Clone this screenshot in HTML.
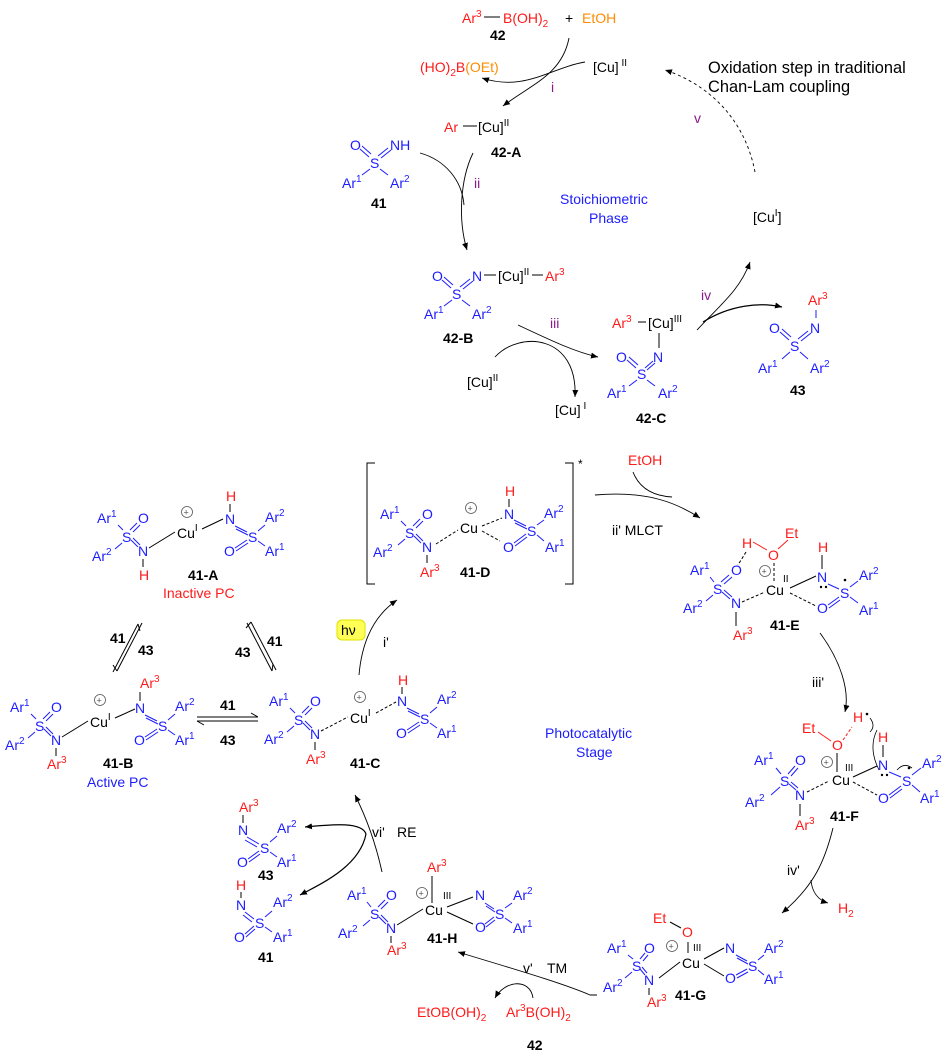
<!DOCTYPE html>
<html><head><meta charset="utf-8">
<style>
html,body{margin:0;padding:0;background:#fff;}
svg{display:block;font-family:"Liberation Sans",Arial,sans-serif;font-size:14px;}
.b{fill:#1c1cff}.r{fill:#ff1a1a}.k{fill:#000}.p{fill:#8b1a8b}.o{fill:#ff8c00}.bd{font-weight:bold;fill:#000}
line{stroke-width:1}
.bl{stroke:#1c1cff}.kl{stroke:#000}.rl{stroke:#ff1a1a}
.dl{stroke:#000;stroke-dasharray:3,2}
.rdl{stroke:#ff1a1a;stroke-dasharray:3,2}
path.a{fill:none;stroke:#000;stroke-width:0.9}
</style></head><body>
<svg width="950" height="1061" viewBox="0 0 950 1061" xmlns="http://www.w3.org/2000/svg">
<defs><marker id="ar" markerWidth="8" markerHeight="8" refX="7" refY="4" orient="auto" markerUnits="userSpaceOnUse"><path d="M0,1 L7,4 L0,7 z" fill="#000"/></marker></defs>
<rect width="950" height="1061" fill="#fff"/>

<!-- ===== TOP ===== -->
<text x="462" y="23" class="r">Ar<tspan dy="-6" font-size="10">3</tspan></text>
<line x1="484" y1="17" x2="500" y2="17" class="kl"/>
<text x="503" y="23" class="r">B(OH)<tspan dy="4" font-size="10">2</tspan></text>
<text x="565" y="23" class="k">+</text><text x="582" y="23" class="o">EtOH</text>
<text x="490" y="40" class="bd">42</text>
<text x="593" y="72" class="k">[Cu]<tspan dy="-6" font-size="10"> II</tspan></text>
<text x="420" y="72" class="r">(HO)<tspan dy="4" font-size="10">2</tspan><tspan dy="-4">B</tspan><tspan class="o">(OEt)</tspan></text>
<text x="551" y="92" class="p">i</text>
<path class="a" d="M585,62 C550,68 525,92 482,78" marker-end="url(#ar)"/>
<path class="a" d="M569,38 C562,75 530,85 503,106" marker-end="url(#ar)"/>
<text x="444" y="132" class="r">Ar</text><line x1="463" y1="126" x2="477" y2="126" class="kl"/>
<text x="478" y="132" class="k">[Cu]<tspan dy="-6" font-size="10">II</tspan></text>
<text x="491" y="157" class="bd">42-A</text>
<text x="708" y="73" class="k" font-size="16.4">Oxidation step in traditional</text>
<text x="708" y="92" class="k" font-size="16.4">Chan-Lam coupling</text>
<text x="694" y="123" class="p">v</text>
<path d="M755,172 C745,120 710,85 665,70" fill="none" stroke="#000" stroke-width="0.9" stroke-dasharray="3,3" marker-end="url(#ar)"/>
<text x="560" y="204" class="b">Stoichiometric</text>
<text x="589" y="223" class="b">Phase</text>
<text x="753" y="222" class="k">[Cu<tspan dy="-6" font-size="10">I</tspan><tspan dy="6">]</tspan></text>

<!-- 41 top (T) -->
<g transform="translate(375,162)">
<text x="-25" y="-12" class="b">O</text><text x="15" y="-12" class="b">NH</text><text x="-5" y="6" class="b">S</text>
<text x="-33" y="26" class="b">Ar<tspan dy="-6" font-size="10">1</tspan></text><text x="15" y="26" class="b">Ar<tspan dy="-6" font-size="10">2</tspan></text>
<line x1="-15" y1="-13" x2="-6" y2="-5" class="bl"/><line x1="-13" y1="-16" x2="-4" y2="-8" class="bl"/>
<line x1="3" y1="-6" x2="13" y2="-14" class="bl"/><line x1="6" y1="-4" x2="16" y2="-12" class="bl"/>
<line x1="-5" y1="7" x2="-13" y2="13" class="bl"/><line x1="5" y1="7" x2="13" y2="13" class="bl"/>
</g>
<text x="371" y="208" class="bd">41</text>
<text x="474" y="188" class="p">ii</text>
<path class="a" d="M473,153 C460,180 458,220 467,250" marker-end="url(#ar)"/>
<path class="a" d="M420,153 C445,160 462,180 464,205"/>

<!-- 42-B -->
<g transform="translate(457,293)">
<text x="-25" y="-12" class="b">O</text><text x="15" y="-12" class="b">N</text><text x="-5" y="6" class="b">S</text>
<text x="-33" y="26" class="b">Ar<tspan dy="-6" font-size="10">1</tspan></text><text x="15" y="26" class="b">Ar<tspan dy="-6" font-size="10">2</tspan></text>
<line x1="-15" y1="-13" x2="-6" y2="-5" class="bl"/><line x1="-13" y1="-16" x2="-4" y2="-8" class="bl"/>
<line x1="3" y1="-6" x2="13" y2="-14" class="bl"/><line x1="6" y1="-4" x2="16" y2="-12" class="bl"/>
<line x1="-5" y1="7" x2="-13" y2="13" class="bl"/><line x1="5" y1="7" x2="13" y2="13" class="bl"/>
</g>
<line x1="484" y1="275" x2="496" y2="275" class="kl"/>
<text x="498" y="281" class="k">[Cu]<tspan dy="-6" font-size="10">II</tspan></text>
<line x1="532" y1="275" x2="543" y2="275" class="kl"/>
<text x="545" y="281" class="r">Ar<tspan dy="-6" font-size="10">3</tspan></text>
<text x="443" y="343" class="bd">42-B</text>
<text x="550" y="328" class="p">iii</text>
<path class="a" d="M518,325 C550,340 575,352 598,357" marker-end="url(#ar)"/>
<path class="a" d="M495,357 C520,330 578,335 575,397" marker-end="url(#ar)"/>
<text x="467" y="387" class="k">[Cu]<tspan dy="-6" font-size="10">II</tspan></text>
<text x="555" y="415" class="k">[Cu]<tspan dy="-6" font-size="10"> I</tspan></text>

<!-- 42-C -->
<text x="612" y="328" class="r">Ar<tspan dy="-6" font-size="10">3</tspan></text>
<line x1="638" y1="322" x2="646" y2="322" class="kl"/>
<text x="648" y="328" class="k">[Cu]<tspan dy="-6" font-size="10">III</tspan></text>
<line x1="659" y1="333" x2="659" y2="348" class="kl"/>
<g transform="translate(642,373)">
<text x="-26" y="-11" class="b">O</text><text x="11" y="-11" class="b">N</text><text x="-5" y="6" class="b">S</text>
<text x="-35" y="25" class="b">Ar<tspan dy="-6" font-size="10">1</tspan></text><text x="16" y="25" class="b">Ar<tspan dy="-6" font-size="10">2</tspan></text>
<line x1="-15" y1="-13" x2="-6" y2="-5" class="bl"/><line x1="-13" y1="-16" x2="-4" y2="-8" class="bl"/>
<line x1="3" y1="-5" x2="11" y2="-12" class="bl"/><line x1="5" y1="-3" x2="13" y2="-10" class="bl"/>
<line x1="-5" y1="7" x2="-13" y2="13" class="bl"/><line x1="5" y1="7" x2="13" y2="13" class="bl"/>
</g>
<text x="636" y="423" class="bd">42-C</text>
<text x="701" y="300" class="p">iv</text>
<path class="a" d="M697,330 C720,305 740,290 750,262" marker-end="url(#ar)"/>
<path class="a" d="M703,322 C730,305 760,302 782,307" marker-end="url(#ar)" style="stroke-width:1.3"/>

<!-- 43 top -->
<text x="808" y="305" class="r">Ar<tspan dy="-6" font-size="10">3</tspan></text>
<line x1="816" y1="310" x2="816" y2="318" class="bl"/>
<g transform="translate(795,345)">
<text x="-26" y="-12" class="b">O</text><text x="15" y="-12" class="b">N</text><text x="-5" y="6" class="b">S</text>
<text x="-37" y="28" class="b">Ar<tspan dy="-6" font-size="10">1</tspan></text><text x="15" y="28" class="b">Ar<tspan dy="-6" font-size="10">2</tspan></text>
<line x1="-15" y1="-13" x2="-6" y2="-5" class="bl"/><line x1="-13" y1="-16" x2="-4" y2="-8" class="bl"/>
<line x1="3" y1="-6" x2="13" y2="-14" class="bl"/><line x1="6" y1="-4" x2="16" y2="-12" class="bl"/>
<line x1="-5" y1="7" x2="-13" y2="14" class="bl"/><line x1="5" y1="7" x2="13" y2="14" class="bl"/>
</g>
<text x="790" y="395" class="bd">43</text>

<!-- ===== 41-A ===== -->
<g transform="translate(127,536)">
<text x="-30" y="-13" class="b">Ar<tspan dy="-6" font-size="10">1</tspan></text><text x="11" y="-13" class="b">O</text><text x="-5" y="6" class="b">S</text>
<text x="-35" y="25" class="b">Ar<tspan dy="-6" font-size="10">2</tspan></text><text x="11" y="20" class="b">N</text><text x="12" y="44" class="r">H</text>
<line x1="-9" y1="-11" x2="-4" y2="-6" class="bl"/>
<line x1="3" y1="-6" x2="10" y2="-13" class="bl"/><line x1="6" y1="-4" x2="13" y2="-11" class="bl"/>
<line x1="4" y1="4" x2="11" y2="11" class="bl"/><line x1="6" y1="2" x2="13" y2="9" class="bl"/>
<line x1="-5" y1="7" x2="-12" y2="13" class="bl"/><line x1="16" y1="23" x2="16" y2="31" class="kl"/>
</g>
<g transform="translate(253,536)">
<text x="-27" y="-35" class="r">H</text><text x="-28" y="-12" class="b">N</text><text x="-29" y="20" class="b">O</text><text x="-5" y="6" class="b">S</text>
<text x="12" y="-14" class="b">Ar<tspan dy="-6" font-size="10">2</tspan></text><text x="12" y="20" class="b">Ar<tspan dy="-6" font-size="10">1</tspan></text>
<line x1="-23" y1="-32" x2="-23" y2="-24" class="kl"/>
<line x1="-18" y1="-10" x2="-6" y2="-4" class="bl"/><line x1="-17" y1="-7" x2="-5" y2="-1" class="bl"/>
<line x1="-18" y1="12" x2="-6" y2="4" class="bl"/><line x1="-17" y1="15" x2="-5" y2="7" class="bl"/>
<line x1="5" y1="-5" x2="12" y2="-11" class="bl"/><line x1="5" y1="5" x2="12" y2="10" class="bl"/>
</g>
<circle cx="187" cy="512" r="5.5" fill="none" stroke="#555" stroke-width="0.8"/><text x="183.5" y="515.5" font-size="9" fill="#555">+</text>
<text x="177" y="538" class="k">Cu<tspan dy="-7" font-size="10">I</tspan></text>
<line x1="149" y1="548" x2="175" y2="532" class="kl"/><line x1="202" y1="529" x2="223" y2="519" class="kl"/>
<text x="188" y="580" class="bd">41-A</text>
<text x="163" y="598" class="r">Inactive PC</text>

<!-- equilibria -->
<line x1="113" y1="672" x2="138" y2="624" class="kl"/><line x1="138" y1="624" x2="140" y2="631" class="kl"/>
<line x1="117" y1="671" x2="142" y2="623" class="kl"/><line x1="117" y1="671" x2="113" y2="665" class="kl"/>
<text x="110" y="643" class="bd">41</text><text x="138" y="655" class="bd">43</text>
<line x1="247" y1="623" x2="272" y2="671" class="kl"/><line x1="272" y1="671" x2="273" y2="664" class="kl"/>
<line x1="251" y1="622" x2="276" y2="670" class="kl"/><line x1="251" y1="622" x2="246" y2="628" class="kl"/>
<text x="267" y="646" class="bd">41</text><text x="235" y="657" class="bd">43</text>
<line x1="197" y1="717" x2="258" y2="717" class="kl"/><line x1="258" y1="717" x2="251" y2="713" class="kl"/>
<line x1="197" y1="721" x2="258" y2="721" class="kl"/><line x1="197" y1="721" x2="204" y2="725" class="kl"/>
<text x="220" y="710" class="bd">41</text><text x="220" y="745" class="bd">43</text>

<!-- ===== 41-B ===== -->
<g transform="translate(40,725)">
<text x="-30" y="-13" class="b">Ar<tspan dy="-6" font-size="10">1</tspan></text><text x="11" y="-13" class="b">O</text><text x="-5" y="6" class="b">S</text>
<text x="-35" y="25" class="b">Ar<tspan dy="-6" font-size="10">2</tspan></text><text x="11" y="20" class="b">N</text><text x="7" y="44" class="r">Ar<tspan dy="-6" font-size="10">3</tspan></text>
<line x1="-9" y1="-11" x2="-4" y2="-6" class="bl"/>
<line x1="3" y1="-6" x2="10" y2="-13" class="bl"/><line x1="6" y1="-4" x2="13" y2="-11" class="bl"/>
<line x1="4" y1="4" x2="11" y2="11" class="bl"/><line x1="6" y1="2" x2="13" y2="9" class="bl"/>
<line x1="-5" y1="7" x2="-12" y2="13" class="bl"/><line x1="16" y1="23" x2="16" y2="31" class="kl"/>
</g>
<g transform="translate(163,725)">
<text x="-23" y="-37" class="r">Ar<tspan dy="-6" font-size="10">3</tspan></text><text x="-28" y="-12" class="b">N</text><text x="-29" y="20" class="b">O</text><text x="-5" y="6" class="b">S</text>
<text x="12" y="-14" class="b">Ar<tspan dy="-6" font-size="10">2</tspan></text><text x="12" y="20" class="b">Ar<tspan dy="-6" font-size="10">1</tspan></text>
<line x1="-23" y1="-33" x2="-23" y2="-24" class="kl"/>
<line x1="-18" y1="-10" x2="-6" y2="-4" class="bl"/><line x1="-17" y1="-7" x2="-5" y2="-1" class="bl"/>
<line x1="-18" y1="12" x2="-6" y2="4" class="bl"/><line x1="-17" y1="15" x2="-5" y2="7" class="bl"/>
<line x1="5" y1="-5" x2="12" y2="-11" class="bl"/><line x1="5" y1="5" x2="12" y2="10" class="bl"/>
</g>
<circle cx="100" cy="700" r="5.5" fill="none" stroke="#555" stroke-width="0.8"/><text x="96.5" y="703.5" font-size="9" fill="#555">+</text>
<text x="90" y="727" class="k">Cu<tspan dy="-7" font-size="10">I</tspan></text>
<line x1="62" y1="737" x2="88" y2="721" class="kl"/><line x1="115" y1="718" x2="135" y2="709" class="kl"/>
<text x="103" y="768" class="bd">41-B</text>
<text x="87" y="787" class="b">Active PC</text>

<!-- ===== 41-C ===== -->
<g transform="translate(299,719)">
<text x="-30" y="-13" class="b">Ar<tspan dy="-6" font-size="10">1</tspan></text><text x="11" y="-13" class="b">O</text><text x="-5" y="6" class="b">S</text>
<text x="-35" y="25" class="b">Ar<tspan dy="-6" font-size="10">2</tspan></text><text x="11" y="20" class="b">N</text><text x="7" y="45" class="r">Ar<tspan dy="-6" font-size="10">3</tspan></text>
<line x1="-9" y1="-11" x2="-4" y2="-6" class="bl"/>
<line x1="3" y1="-6" x2="10" y2="-13" class="bl"/><line x1="6" y1="-4" x2="13" y2="-11" class="bl"/>
<line x1="4" y1="4" x2="11" y2="11" class="bl"/><line x1="6" y1="2" x2="13" y2="9" class="bl"/>
<line x1="-5" y1="7" x2="-12" y2="13" class="bl"/><line x1="16" y1="23" x2="16" y2="31" class="kl"/>
</g>
<g transform="translate(425,718)">
<text x="-27" y="-33" class="r">H</text><text x="-28" y="-12" class="b">N</text><text x="-29" y="20" class="b">O</text><text x="-5" y="6" class="b">S</text>
<text x="12" y="-14" class="b">Ar<tspan dy="-6" font-size="10">2</tspan></text><text x="12" y="20" class="b">Ar<tspan dy="-6" font-size="10">1</tspan></text>
<line x1="-23" y1="-31" x2="-23" y2="-24" class="kl"/>
<line x1="-18" y1="-10" x2="-6" y2="-4" class="bl"/><line x1="-17" y1="-7" x2="-5" y2="-1" class="bl"/>
<line x1="-18" y1="12" x2="-6" y2="4" class="bl"/><line x1="-17" y1="15" x2="-5" y2="7" class="bl"/>
<line x1="5" y1="-5" x2="12" y2="-11" class="bl"/><line x1="5" y1="5" x2="12" y2="10" class="bl"/>
</g>
<circle cx="360" cy="697" r="5.5" fill="none" stroke="#555" stroke-width="0.8"/><text x="356.5" y="700.5" font-size="9" fill="#555">+</text>
<text x="350" y="723" class="k">Cu<tspan dy="-7" font-size="10">I</tspan></text>
<line x1="321" y1="731" x2="348" y2="717" class="dl"/><line x1="376" y1="713" x2="396" y2="702" class="dl"/>
<text x="350" y="768" class="bd">41-C</text>

<rect x="337" y="620" width="28" height="20" rx="5" fill="#ffff55" stroke="#e0e000"/>
<text x="341" y="635" class="k">hν</text>
<text x="383" y="647" class="k">i'</text>
<path class="a" d="M359,675 C362,640 375,615 397,600" marker-end="url(#ar)"/>

<!-- ===== 41-D ===== -->
<path d="M375,463 L367,463 L367,584 L375,584" fill="none" stroke="#000"/>
<path d="M565,463 L573,463 L573,584 L565,584" fill="none" stroke="#000"/>
<text x="578" y="468" class="k" font-size="12">*</text>
<g transform="translate(410,532)">
<text x="-30" y="-13" class="b">Ar<tspan dy="-6" font-size="10">1</tspan></text><text x="12" y="-13" class="b">O</text><text x="-5" y="6" class="b">S</text>
<text x="-37" y="25" class="b">Ar<tspan dy="-6" font-size="10">2</tspan></text><text x="12" y="20" class="b">N</text><text x="10" y="45" class="r">Ar<tspan dy="-6" font-size="10">3</tspan></text>
<line x1="-9" y1="-11" x2="-4" y2="-6" class="bl"/>
<line x1="3" y1="-6" x2="10" y2="-13" class="bl"/><line x1="6" y1="-4" x2="13" y2="-11" class="bl"/>
<line x1="4" y1="4" x2="11" y2="11" class="bl"/><line x1="6" y1="2" x2="13" y2="9" class="bl"/>
<line x1="-5" y1="7" x2="-12" y2="13" class="bl"/><line x1="17" y1="23" x2="17" y2="31" class="kl"/>
</g>
<g transform="translate(532,530)">
<text x="-27" y="-34" class="r">H</text><text x="-28" y="-11" class="b">N</text><text x="-29" y="22" class="b">O</text><text x="-5" y="6" class="b">S</text>
<text x="12" y="-12" class="b">Ar<tspan dy="-6" font-size="10">2</tspan></text><text x="13" y="22" class="b">Ar<tspan dy="-6" font-size="10">1</tspan></text>
<line x1="-23" y1="-31" x2="-23" y2="-23" class="kl"/>
<line x1="-18" y1="-10" x2="-6" y2="-4" class="bl"/><line x1="-17" y1="-7" x2="-5" y2="-1" class="bl"/>
<line x1="-18" y1="13" x2="-6" y2="4" class="bl"/><line x1="-17" y1="16" x2="-5" y2="7" class="bl"/>
<line x1="5" y1="-5" x2="12" y2="-10" class="bl"/><line x1="5" y1="5" x2="12" y2="11" class="bl"/>
</g>
<circle cx="471" cy="508" r="5.5" fill="none" stroke="#555" stroke-width="0.8"/><text x="467.5" y="511.5" font-size="9" fill="#555">+</text>
<text x="460" y="533" class="k">Cu</text>
<line x1="436" y1="544" x2="458" y2="530" class="dl"/><line x1="482" y1="526" x2="502" y2="518" class="dl"/><line x1="482" y1="531" x2="500" y2="541" class="dl"/>
<text x="460" y="577" class="bd">41-D</text>

<text x="628" y="465" class="r">EtOH</text>
<path class="a" d="M595,495 C650,490 680,505 700,518" marker-end="url(#ar)"/>
<path class="a" d="M633,472 C640,490 655,496 672,497"/>
<text x="612" y="535" class="k">ii' MLCT</text>

<!-- ===== 41-E ===== -->
<g transform="translate(718,588)">
<text x="-28" y="-13" class="b">Ar<tspan dy="-6" font-size="10">1</tspan></text><text x="13" y="-13" class="b">O</text><text x="-5" y="6" class="b">S</text>
<text x="-35" y="25" class="b">Ar<tspan dy="-6" font-size="10">2</tspan></text><text x="13" y="20" class="b">N</text><text x="15" y="52" class="r">Ar<tspan dy="-6" font-size="10">3</tspan></text>
<line x1="-8" y1="-11" x2="-4" y2="-6" class="bl"/>
<line x1="3" y1="-6" x2="11" y2="-13" class="bl"/><line x1="6" y1="-4" x2="14" y2="-11" class="bl"/>
<line x1="4" y1="4" x2="12" y2="11" class="bl"/><line x1="6" y1="2" x2="14" y2="9" class="bl"/>
<line x1="-5" y1="7" x2="-12" y2="13" class="bl"/><line x1="18" y1="24" x2="18" y2="38" class="kl"/>
</g>
<text x="742" y="548" class="r">H</text><text x="768" y="560" class="r">O</text><text x="785" y="538" class="r">Et</text>
<line x1="753" y1="542" x2="767" y2="550" class="rl"/><line x1="778" y1="549" x2="788" y2="540" class="rl"/>
<line x1="746" y1="552" x2="738" y2="565" class="dl"/>
<line x1="774" y1="563" x2="774" y2="582" class="dl"/>
<circle cx="765" cy="571" r="5.5" fill="none" stroke="#555" stroke-width="0.8"/><text x="761.5" y="574.5" font-size="9" fill="#555">+</text>
<text x="766" y="595" class="k">Cu</text><text x="783" y="582" font-size="10" class="k">II</text>
<g transform="translate(845,592)">
<text x="-27" y="-40" class="r">H</text><text x="-28" y="-10" class="b">N</text><text x="-28" y="21" class="b">O</text><text x="-5" y="6" class="b">S</text>
<text x="14" y="-12" class="b">Ar<tspan dy="-6" font-size="10">2</tspan></text><text x="14" y="23" class="b">Ar<tspan dy="-6" font-size="10">1</tspan></text>
<line x1="-23" y1="-37" x2="-23" y2="-23" class="kl"/>
<line x1="-17" y1="-8" x2="-6" y2="-3" class="bl"/>
<line x1="-17" y1="13" x2="-6" y2="5" class="bl"/><line x1="-16" y1="16" x2="-5" y2="8" class="bl"/>
<line x1="5" y1="-5" x2="13" y2="-11" class="bl"/><line x1="5" y1="5" x2="13" y2="11" class="bl"/>
<circle cx="-24" cy="-5" r="1.2" fill="#000"/><circle cx="-19" cy="-5" r="1.2" fill="#000"/>
<circle cx="0" cy="-12" r="1.3" fill="#000"/>
</g>
<line x1="742" y1="602" x2="765" y2="592" class="dl"/><line x1="790" y1="588" x2="816" y2="576" class="kl"/><line x1="790" y1="593" x2="816" y2="606" class="dl"/>
<text x="770" y="630" class="bd">41-E</text>

<text x="545" y="738" class="b">Photocatalytic</text>
<text x="576" y="757" class="b">Stage</text>
<text x="812" y="687" class="k">iii'</text>
<path class="a" d="M820,633 C840,660 850,690 845,712" marker-end="url(#ar)"/>

<!-- ===== 41-F ===== -->
<text x="802" y="733" class="r">Et</text><text x="832" y="750" class="r">O</text><text x="853" y="722" class="r">H</text>
<circle cx="867" cy="714" r="1.3" fill="#000"/>
<line x1="818" y1="732" x2="831" y2="741" class="rl"/><line x1="843" y1="740" x2="852" y2="727" class="rdl"/>
<line x1="837" y1="753" x2="837" y2="772" class="kl"/>
<path d="M870,718 Q876,726 870,732" fill="none" stroke="#000" stroke-width="0.8"/>
<path d="M877,730 Q868,748 879,770" fill="none" stroke="#000" stroke-width="0.8"/>
<g transform="translate(785,780)">
<text x="-31" y="-15" class="b">Ar<tspan dy="-6" font-size="10">1</tspan></text><text x="10" y="-15" class="b">O</text><text x="-5" y="6" class="b">S</text>
<text x="-40" y="27" class="b">Ar<tspan dy="-6" font-size="10">2</tspan></text><text x="10" y="20" class="b">N</text><text x="10" y="50" class="r">Ar<tspan dy="-6" font-size="10">3</tspan></text>
<line x1="-9" y1="-12" x2="-4" y2="-6" class="bl"/>
<line x1="3" y1="-6" x2="10" y2="-14" class="bl"/><line x1="6" y1="-4" x2="13" y2="-12" class="bl"/>
<line x1="4" y1="4" x2="11" y2="10" class="bl"/><line x1="6" y1="2" x2="13" y2="8" class="bl"/>
<line x1="-5" y1="7" x2="-14" y2="15" class="bl"/><line x1="15" y1="24" x2="15" y2="36" class="kl"/>
</g>
<circle cx="827" cy="762" r="5.5" fill="none" stroke="#555" stroke-width="0.8"/><text x="823.5" y="765.5" font-size="9" fill="#555">+</text>
<text x="832" y="785" class="k">Cu</text><text x="845" y="771" font-size="10" class="k">III</text>
<g transform="translate(907,780)">
<text x="-29" y="-38" class="r">H</text><text x="-29" y="-10" class="b">N</text><text x="-29" y="23" class="b">O</text><text x="-5" y="6" class="b">S</text>
<text x="15" y="-12" class="b">Ar<tspan dy="-6" font-size="10">2</tspan></text><text x="13" y="23" class="b">Ar<tspan dy="-6" font-size="10">1</tspan></text>
<line x1="-24" y1="-35" x2="-24" y2="-23" class="kl"/>
<line x1="-18" y1="-8" x2="-6" y2="-3" class="bl"/>
<line x1="-18" y1="15" x2="-6" y2="6" class="bl"/><line x1="-17" y1="18" x2="-5" y2="9" class="bl"/>
<line x1="5" y1="-5" x2="14" y2="-12" class="bl"/><line x1="5" y1="5" x2="13" y2="12" class="bl"/>
<circle cx="-25" cy="-5" r="1.2" fill="#000"/><circle cx="-20" cy="-5" r="1.2" fill="#000"/>
<circle cx="2" cy="-12" r="1.3" fill="#000"/>
<path d="M-10,-10 Q-3,-18 5,-12" fill="none" stroke="#000" stroke-width="0.8"/>
</g>
<line x1="807" y1="792" x2="829" y2="781" class="dl"/><line x1="853" y1="777" x2="877" y2="766" class="kl"/><line x1="853" y1="782" x2="877" y2="795" class="dl"/>
<text x="830" y="821" class="bd">41-F</text>
<text x="787" y="875" class="k">iv'</text>
<path class="a" d="M833,828 C825,860 815,885 782,913" marker-end="url(#ar)"/>
<path class="a" d="M811,880 C812,892 818,900 828,903" marker-end="url(#ar)"/>
<text x="838" y="913" class="r">H<tspan dy="4" font-size="10">2</tspan></text>

<!-- ===== 41-G ===== -->
<text x="653" y="923" class="r">Et</text><text x="682" y="937" class="r">O</text>
<line x1="670" y1="922" x2="681" y2="928" class="kl"/>
<line x1="688" y1="942" x2="688" y2="953" class="kl"/>
<text x="693" y="951" font-size="10" class="k">III</text>
<circle cx="672" cy="946" r="5.5" fill="none" stroke="#555" stroke-width="0.8"/><text x="668.5" y="949.5" font-size="9" fill="#555">+</text>
<text x="682" y="968" class="k">Cu</text>
<g transform="translate(637,965)">
<text x="-30" y="-12" class="b">Ar<tspan dy="-6" font-size="10">1</tspan></text><text x="7" y="-12" class="b">O</text><text x="-5" y="6" class="b">S</text>
<text x="-34" y="27" class="b">Ar<tspan dy="-6" font-size="10">2</tspan></text><text x="7" y="20" class="b">N</text><text x="10" y="42" class="r">Ar<tspan dy="-6" font-size="10">3</tspan></text>
<line x1="-9" y1="-10" x2="-4" y2="-6" class="bl"/>
<line x1="3" y1="-6" x2="8" y2="-12" class="bl"/><line x1="6" y1="-4" x2="11" y2="-10" class="bl"/>
<line x1="3" y1="4" x2="8" y2="10" class="bl"/><line x1="5" y1="2" x2="10" y2="8" class="bl"/>
<line x1="-5" y1="7" x2="-12" y2="13" class="bl"/><line x1="12" y1="23" x2="12" y2="30" class="kl"/>
</g>
<g transform="translate(753,965)">
<text x="-28" y="-12" class="b">N</text><text x="-28" y="18" class="b">O</text><text x="-5" y="6" class="b">S</text>
<text x="11" y="-12" class="b">Ar<tspan dy="-6" font-size="10">2</tspan></text><text x="11" y="19" class="b">Ar<tspan dy="-6" font-size="10">1</tspan></text>
<line x1="-17" y1="-10" x2="-6" y2="-4" class="bl"/><line x1="-16" y1="-7" x2="-5" y2="-1" class="bl"/>
<line x1="-17" y1="10" x2="-6" y2="4" class="bl"/><line x1="-16" y1="13" x2="-5" y2="7" class="bl"/>
<line x1="5" y1="-5" x2="11" y2="-10" class="bl"/><line x1="5" y1="5" x2="11" y2="10" class="bl"/>
</g>
<line x1="659" y1="978" x2="680" y2="962" class="kl"/><line x1="704" y1="959" x2="724" y2="948" class="kl"/><line x1="704" y1="964" x2="724" y2="976" class="kl"/>
<text x="675" y="1000" class="bd">41-G</text>

<text x="523" y="973" class="k">v'</text><text x="547" y="973" class="k">TM</text>
<path class="a" d="M597,995 L590,995 C560,982 500,965 458,952" marker-end="url(#ar)"/>
<path class="a" d="M533,998 C530,978 505,980 495,998" marker-end="url(#ar)"/>
<text x="417" y="1017" class="r">EtOB(OH)<tspan dy="4" font-size="10">2</tspan></text>
<text x="506" y="1017" class="r">Ar<tspan dy="-6" font-size="10">3</tspan><tspan dy="6">B(OH)</tspan><tspan dy="4" font-size="10">2</tspan></text>
<text x="527" y="1050" class="bd">42</text>

<!-- ===== 41-H ===== -->
<text x="427" y="872" class="r">Ar<tspan dy="-6" font-size="10">3</tspan></text>
<line x1="432" y1="876" x2="432" y2="903" class="kl"/>
<circle cx="422" cy="893" r="5.5" fill="none" stroke="#555" stroke-width="0.8"/><text x="418.5" y="896.5" font-size="9" fill="#555">+</text>
<text x="443" y="899" font-size="10" class="k">III</text>
<text x="425" y="915" class="k">Cu</text>
<g transform="translate(375,913)">
<text x="-28" y="-13" class="b">Ar<tspan dy="-6" font-size="10">1</tspan></text><text x="11" y="-13" class="b">O</text><text x="-5" y="6" class="b">S</text>
<text x="-37" y="25" class="b">Ar<tspan dy="-6" font-size="10">2</tspan></text><text x="11" y="20" class="b">N</text><text x="12" y="42" class="r">Ar<tspan dy="-6" font-size="10">3</tspan></text>
<line x1="-8" y1="-11" x2="-4" y2="-6" class="bl"/>
<line x1="3" y1="-6" x2="10" y2="-13" class="bl"/><line x1="6" y1="-4" x2="13" y2="-11" class="bl"/>
<line x1="4" y1="4" x2="11" y2="11" class="bl"/><line x1="6" y1="2" x2="13" y2="9" class="bl"/>
<line x1="-5" y1="7" x2="-12" y2="13" class="bl"/><line x1="16" y1="23" x2="16" y2="30" class="kl"/>
</g>
<g transform="translate(500,913)">
<text x="-25" y="-13" class="b">N</text><text x="-25" y="19" class="b">O</text><text x="-5" y="6" class="b">S</text>
<text x="13" y="-13" class="b">Ar<tspan dy="-6" font-size="10">2</tspan></text><text x="13" y="20" class="b">Ar<tspan dy="-6" font-size="10">1</tspan></text>
<line x1="-15" y1="-10" x2="-6" y2="-4" class="bl"/><line x1="-14" y1="-7" x2="-5" y2="-1" class="bl"/>
<line x1="-15" y1="11" x2="-6" y2="4" class="bl"/><line x1="-14" y1="14" x2="-5" y2="7" class="bl"/>
<line x1="5" y1="-5" x2="12" y2="-10" class="bl"/><line x1="5" y1="5" x2="12" y2="10" class="bl"/>
</g>
<line x1="397" y1="925" x2="423" y2="909" class="kl"/><line x1="447" y1="907" x2="473" y2="897" class="kl"/><line x1="447" y1="912" x2="473" y2="924" class="kl"/>
<text x="427" y="943" class="bd">41-H</text>

<text x="372" y="837" class="k">vi'</text><text x="397" y="837" class="k">RE</text>
<path class="a" d="M382,872 C375,840 365,815 355,795" marker-end="url(#ar)"/>
<path class="a" d="M366,834 C362,822 335,824 305,827" marker-end="url(#ar)" style="stroke-width:1.2"/>
<path class="a" d="M366,834 C360,865 325,882 300,895" marker-end="url(#ar)" style="stroke-width:1.2"/>

<!-- 43 left -->
<g transform="translate(265,847)">
<text x="-26" y="-35" class="r">Ar<tspan dy="-6" font-size="10">3</tspan></text><text x="-27" y="-12" class="b">N</text><text x="-28" y="20" class="b">O</text><text x="-5" y="6" class="b">S</text>
<text x="12" y="-14" class="b">Ar<tspan dy="-6" font-size="10">2</tspan></text><text x="12" y="20" class="b">Ar<tspan dy="-6" font-size="10">1</tspan></text>
<line x1="-22" y1="-32" x2="-22" y2="-24" class="kl"/>
<line x1="-18" y1="-10" x2="-6" y2="-3" class="bl"/><line x1="-20" y1="-7" x2="-8" y2="0" class="bl"/>
<line x1="-17" y1="12" x2="-6" y2="4" class="bl"/><line x1="-16" y1="15" x2="-5" y2="7" class="bl"/>
<line x1="5" y1="-5" x2="12" y2="-11" class="bl"/><line x1="5" y1="5" x2="12" y2="10" class="bl"/>
</g>
<text x="258" y="880" class="bd">43</text>
<!-- 41 left -->
<g transform="translate(260,922)">
<text x="-24" y="-32" class="r">H</text><text x="-24" y="-12" class="b">N</text><text x="-26" y="20" class="b">O</text><text x="-5" y="6" class="b">S</text>
<text x="13" y="-15" class="b">Ar<tspan dy="-6" font-size="10">2</tspan></text><text x="13" y="20" class="b">Ar<tspan dy="-6" font-size="10">1</tspan></text>
<line x1="-19" y1="-30" x2="-19" y2="-24" class="kl"/>
<line x1="-15" y1="-10" x2="-6" y2="-3" class="bl"/><line x1="-17" y1="-7" x2="-8" y2="0" class="bl"/>
<line x1="-15" y1="12" x2="-6" y2="4" class="bl"/><line x1="-14" y1="15" x2="-5" y2="7" class="bl"/>
<line x1="5" y1="-5" x2="12" y2="-11" class="bl"/><line x1="5" y1="5" x2="12" y2="10" class="bl"/>
</g>
<text x="258" y="962" class="bd">41</text>
</svg>
</body></html>
